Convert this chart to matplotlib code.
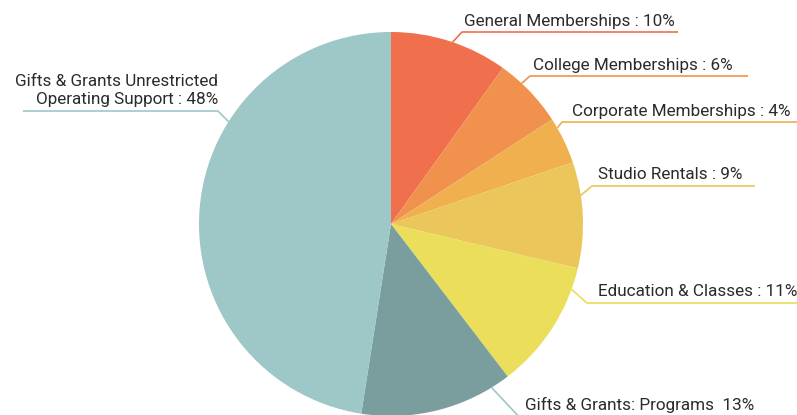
import matplotlib
matplotlib.use("Agg")
import matplotlib.pyplot as plt
import numpy as np

# ---- data ----
categories = [
    "General Memberships",
    "College Memberships",
    "Corporate Memberships",
    "Studio Rentals",
    "Education & Classes",
    "Gifts & Grants: Programs",
    "Gifts & Grants Unrestricted\nOperating Support",
]
values = [10, 6, 4, 9, 11, 13, 48]
label_texts = [
    "General Memberships : 10%",
    "College Memberships : 6%",
    "Corporate Memberships : 4%",
    "Studio Rentals : 9%",
    "Education & Classes : 11%",
    "Gifts & Grants: Programs  13%",
    "Gifts & Grants Unrestricted\nOperating Support : 48%",
]
colors = ["#F0704E", "#F0924E", "#F0B04E", "#EBC65A", "#EADE5A", "#7A9E9D", "#9EC7C7"]
line_colors = ["#F0704E", "#F0924E", "#F0B04E", "#EBC65A", "#EADE5A", "#9EC7C7", "#9EC7C7"]

# ---- layout (image pixel coords, y down) ----
W, H = 797, 415
center_img = (391, 224)
radius = 192
anchor_deg = [71.3, 47.1, 30.0, 8.6, -19.9, -58.4, 147.8]   # where leader leaves the pie
elbow_x = [462, 530, 562, 592, 587, 522, 218]
line_y = [32, 76, 122, 186, 303, 420, 111]
line_end_x = [678, 748, 800, 755, 800, 760, 23]
text_x = [464, 533, 572, 598, 598, 525, 218]
text_gap = [6, 6, 6, 7, 7, 10, 7]

plt.rcParams["font.family"] = ["Roboto", "DejaVu Sans"]
fsize = 12.3

fig = plt.figure(figsize=(W / 100, H / 100), dpi=100)
ax = fig.add_axes([0, 0, 1, 1])

cx, cy = center_img[0], H - center_img[1]
wedges, _ = ax.pie(values, colors=colors, startangle=90, counterclock=False,
                   radius=radius, center=(cx, cy), frame=True,
                   wedgeprops=dict(linewidth=0))
ax.set_xlim(0, W)
ax.set_ylim(0, H)
ax.set_aspect("equal")
ax.axis("off")

txtcol = "#2b2b2b"
for i, w in enumerate(wedges):
    ang = np.deg2rad(anchor_deg[i])
    sx = cx + radius * np.cos(ang)
    sy = cy + radius * np.sin(ang)
    ey = H - line_y[i]
    ex = elbow_x[i]
    ax.plot([sx, ex, line_end_x[i]], [sy, ey, ey], color=line_colors[i], lw=1.2,
            solid_capstyle="butt", clip_on=False)
    if i == len(wedges) - 1:
        ax.text(text_x[i], ey + text_gap[i], label_texts[i], ha="right", va="baseline",
                fontsize=fsize, color=txtcol, multialignment="right", linespacing=1.25)
    else:
        ax.text(text_x[i], ey + text_gap[i], label_texts[i], ha="left", va="baseline",
                fontsize=fsize, color=txtcol)

fig.savefig("out.png", dpi=100)
